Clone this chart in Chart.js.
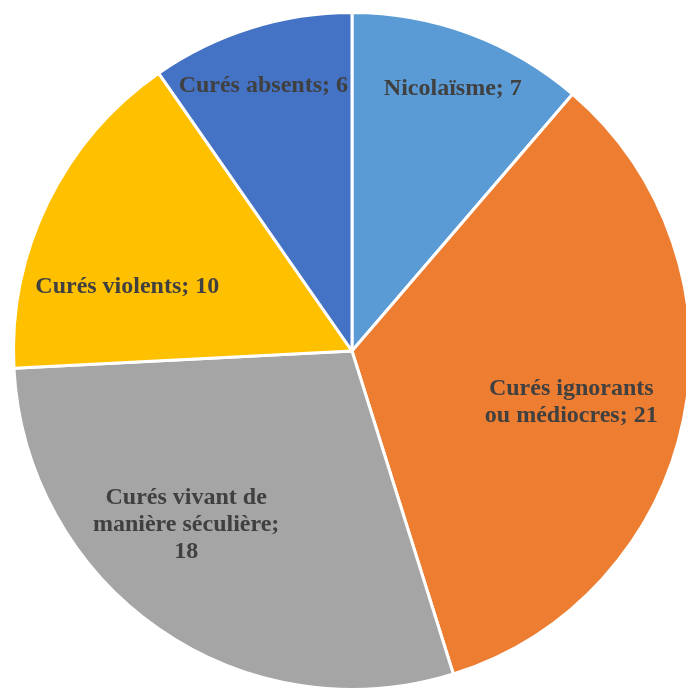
<!DOCTYPE html>
<html>
<head>
<meta charset="utf-8">
<script src="https://cdn.jsdelivr.net/npm/chart.js@4.4.0/dist/chart.umd.min.js"></script>
<style>
  html, body { margin: 0; padding: 0; background: #fff; overflow: hidden; }
  #wrap { width: 686px; height: 688px; overflow: hidden; position: relative; }
  #pie { position: absolute; left: 0; top: 0; }
  #warm { position: absolute; left: -999px; top: 0; font: bold 24px "Liberation Serif"; }
</style>
</head>
<body>
<div id="wrap"><canvas id="pie" width="704" height="702"></canvas></div>
<span id="warm">Curés é ï è</span>
<script>
const categories = ["Nicolaïsme", "Curés ignorants ou médiocres", "Curés vivant de manière séculière", "Curés violents", "Curés absents"];
const counts = [7, 21, 18, 10, 6];
const colors = ["#5B9BD5", "#ED7D31", "#A5A5A5", "#FFC000", "#4472C4"];

// where each label sits: fraction of radius, angle shift (deg) from slice middle
const labelSpots = [
    { r: 0.83, shift: 0.7 },
    { r: 0.665, shift: 1.5 },
    { r: 0.71, shift: 8.8 },
    { r: 0.69, shift: -10.3 },
    { r: 0.825, shift: -1.1 },
];

const FONT_SIZE = 24;
const LINE_H = 27;
const LABEL_FONT = "bold " + FONT_SIZE + "px \"Liberation Serif\", \"Times New Roman\", serif";

function wrapText(ctx, text, maxW) {
    const words = text.split(" ");
    const lines = [];
    let cur = "";
    words.forEach((w) => {
        const test = cur ? cur + " " + w : w;
        if (ctx.measureText(test).width > maxW && cur) {
            lines.push(cur);
            cur = w;
        } else {
            cur = test;
        }
    });
    if (cur) lines.push(cur);
    return lines;
}

const sliceLabels = {
    id: "sliceLabels",
    afterDatasetsDraw(chart) {
        const ctx = chart.ctx;
        const meta = chart.getDatasetMeta(0);
        ctx.save();
        ctx.font = LABEL_FONT;
        ctx.fillStyle = "#404040";
        ctx.textAlign = "center";
        ctx.textBaseline = "middle";
        meta.data.forEach((arc, i) => {
            const p = arc.getProps(["x", "y", "startAngle", "endAngle", "outerRadius"], true);
            const spot = labelSpots[i];
            const mid = (p.startAngle + p.endAngle) / 2 + (spot.shift * Math.PI) / 180;
            const r = p.outerRadius * spot.r;
            const cx = p.x + Math.cos(mid) * r;
            const cy = p.y + Math.sin(mid) * r;
            const text = categories[i] + "; " + counts[i];
            const lines = wrapText(ctx, text, FONT_SIZE * 7.95);
            const top = cy - ((lines.length - 1) * LINE_H) / 2;
            lines.forEach((ln, k) => {
                ctx.fillText(ln, cx, top + k * LINE_H);
            });
        });
        ctx.restore();
    },
};

function draw() {
    new Chart(document.getElementById("pie"), {
        type: "pie",
        data: {
            labels: categories,
            datasets: [
                {
                    data: counts,
                    backgroundColor: colors,
                    borderColor: "#ffffff",
                    borderWidth: 3,
                },
            ],
        },
        options: {
            responsive: false,
            animation: false,
            devicePixelRatio: 1,
            layout: { padding: 11 },
            plugins: {
                legend: { display: false },
                tooltip: { enabled: false },
            },
        },
        plugins: [sliceLabels],
    });
}

if (document.fonts && document.fonts.load) {
    document.fonts.load(LABEL_FONT).then(draw, draw);
} else {
    draw();
}
</script>
</body>
</html>
